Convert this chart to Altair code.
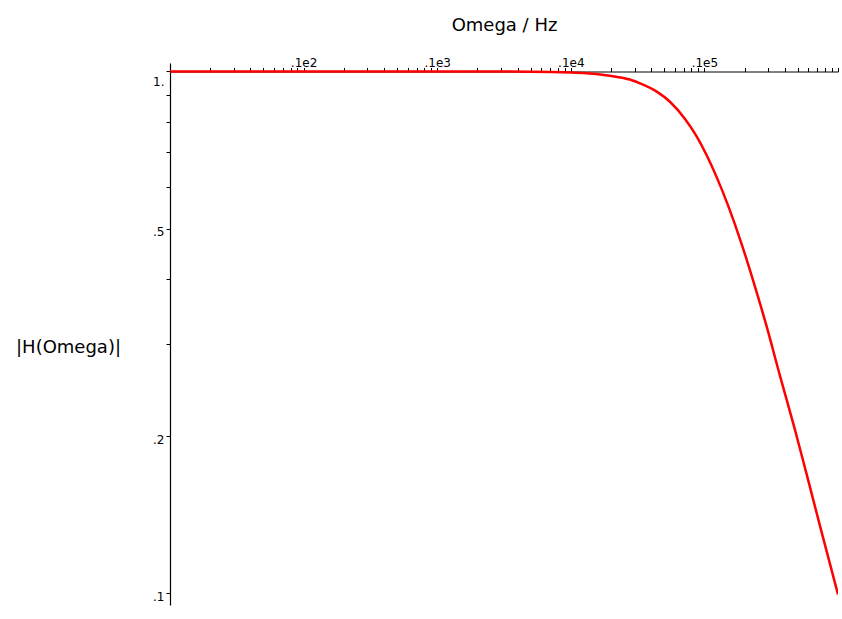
import altair as alt
import pandas as pd

# Magnitude response
freq = [10, 100, 1000, 5000, 10000, 16600, 23400, 28600, 33000, 44000, 55200,
        71600, 87500, 104000, 124000, 151000, 190000, 232000, 292000, 368000,
        476000, 583000, 754000, 1000000]
mag = [1.0, 1.0, 1.0, 0.999, 0.995, 0.987, 0.974, 0.962, 0.949, 0.915, 0.875,
       0.811, 0.751, 0.691, 0.626, 0.552, 0.467, 0.397, 0.325, 0.261,
       0.206, 0.169, 0.131, 0.0995]

# Axis ticks and labels
x_tick_values = [m * 10 ** k for k in range(1, 6) for m in range(1, 10)] + [1000000]
x_label_values = [100, 1000, 10000, 100000]
x_label_texts = [".1e2", ".1e3", ".1e4", ".1e5"]
y_tick_values = [1.0, 0.9, 0.8, 0.7, 0.6, 0.5, 0.4, 0.3, 0.2, 0.1]
y_label_values = [1.0, 0.5, 0.2, 0.1]
y_label_texts = ["1.", ".5", ".2", ".1"]


def label_expr(values, texts):
    expr = "''"
    for v, t in reversed(list(zip(values, texts))):
        expr = f"abs(datum.value - {v}) < {v} * 1e-6 ? '{t}' : ({expr})"
    return expr


df = pd.DataFrame({"f": freq, "H": mag})
FONT = "DejaVu Sans"

chart = (
    alt.Chart(df)
    .mark_line(color="#ff0000", strokeWidth=2.5, interpolate="monotone", clip=True)
    .encode(
        x=alt.X(
            "f:Q",
            scale=alt.Scale(type="log", domain=[10, 1000000], nice=False),
            axis=alt.Axis(
                orient="top",
                offset=-8.5,
                values=x_tick_values,
                labelExpr=label_expr(x_label_values, x_label_texts),
                tickSize=4,
                tickColor="black",
                domainColor="black",
                domainWidth=1.2,
                labelFont=FONT,
                labelFontSize=12,
                labelColor="black",
                labelBaseline="alphabetic",
                labelPadding=1,
                labelOverlap=False,
                labelFlush=False,
                grid=False,
                title="Omega / Hz",
                titleFont=FONT,
                titleFontSize=18,
                titleFontWeight="normal",
                titleColor="black",
                titleBaseline="middle",
                titleY=-46.5,
            ),
        ),
        y=alt.Y(
            "H:Q",
            scale=alt.Scale(type="log", domain=[0.095, 1.038], nice=False),
            axis=alt.Axis(
                orient="left",
                values=y_tick_values,
                labelExpr=label_expr(y_label_values, y_label_texts),
                tickSize=4,
                tickColor="black",
                domainColor="black",
                domainWidth=1.2,
                labelFont=FONT,
                labelFontSize=12,
                labelColor="black",
                labelBaseline="middle",
                labelPadding=2,
                labelOffset={"condition": {"test": "datum.value == 1", "value": 10}, "value": 3},
                labelOverlap=False,
                labelFlush=False,
                grid=False,
                title="|H(Omega)|",
                titleFont=FONT,
                titleFontSize=18,
                titleFontWeight="normal",
                titleColor="black",
                titleAngle=0,
                titleAlign="center",
                titleBaseline="middle",
                titleX=-102,
                titleY=284,
            ),
        ),
    )
    .properties(
        width=668,
        height=542,
        autosize=alt.AutoSizeParams(type="none"),
        padding={"left": 170, "top": 63, "right": 4, "bottom": 14},
        background="white",
    )
    .configure_view(stroke=None)
)

chart.save("out.html", embed_options={"renderer": "svg", "actions": False})
